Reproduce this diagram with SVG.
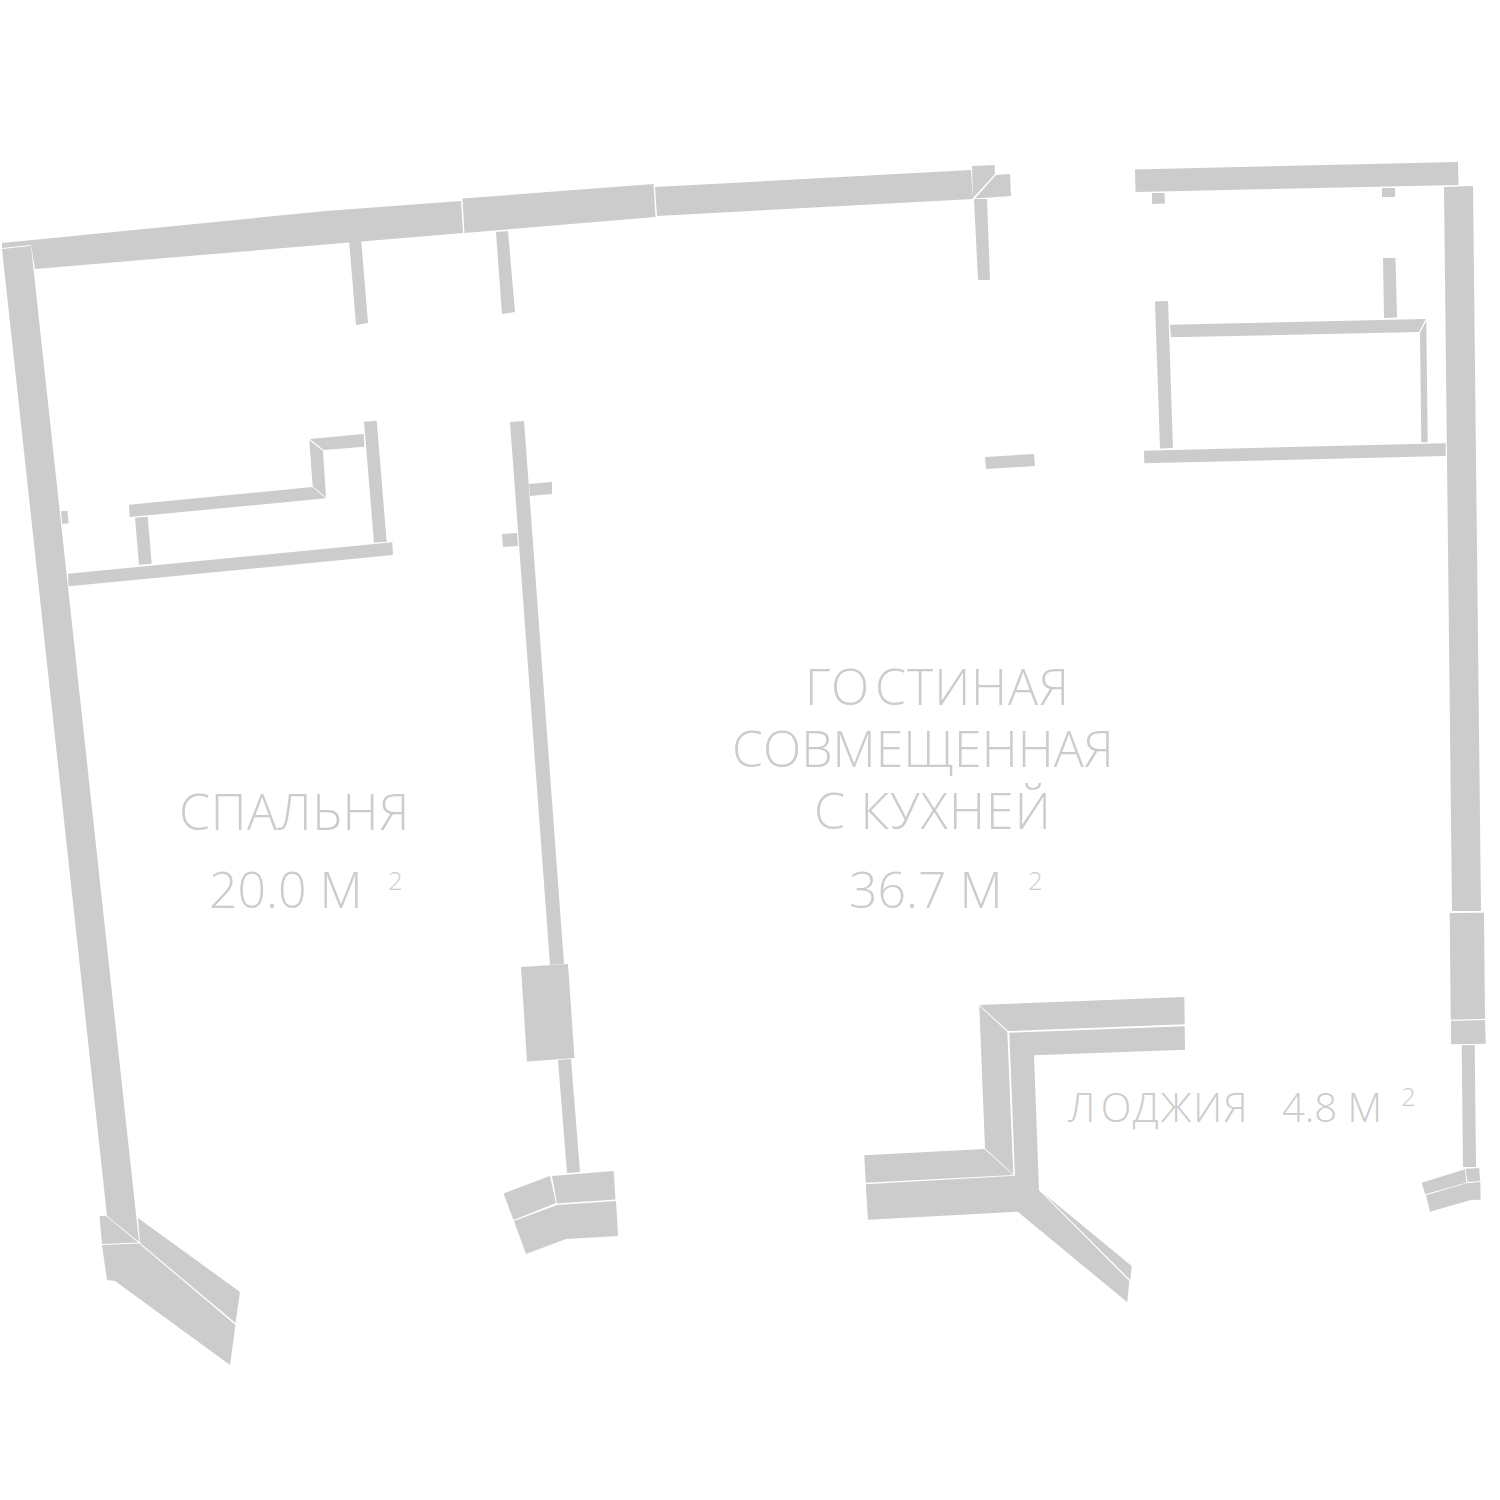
<svg xmlns="http://www.w3.org/2000/svg" width="1500" height="1500" viewBox="0 0 1500 1500">
<style>
polygon{fill:#ccc}
text{font-family:"Open Sans","Noto Sans","Liberation Sans",sans-serif;font-weight:300;fill:#ccc}
.big{font-size:50px}
.mid{font-size:40px}
.sup{font-size:26px}
</style>
<rect width="1500" height="1500" fill="#fff"/>
<g id="walls-left">
<polygon points="2,243 326,211 461,201 463,233 35,269 31,245 2,248"/>
<polygon points="2,249 31,246 139,1242 107,1216"/>
<polygon points="99.500,1216 106,1216 138,1242.500 102,1244"/>
<polygon points="102,1245 139,1243.500 235.500,1325 230,1365 115,1281 107,1280"/>
<polygon points="138,1218 240,1292 235.500,1323 140,1243"/>
<polygon points="349,239 361,238 368,323 356,325"/>
<polygon points="496,232 508,231 515,312 502,314"/>
<polygon points="364,421.700 376.700,420.700 386.700,541.700 374,542.700"/>
<polygon points="68,573.700 392.300,542.300 393,555 68.700,586.300"/>
<polygon points="135,517.700 147.700,516.700 151.700,563.700 139,564.700"/>
<polygon points="129,504.700 312.300,487 326,498.300 129.700,517"/>
<polygon points="309.300,440 323,451 326,497.300 312.700,486.300"/>
<polygon points="310,439 363.700,434 364.300,446.700 323.700,450"/>
<polygon points="61,511.300 67.300,510.700 68.700,523.300 62.300,524"/>
</g>
<g id="walls-middle">
<polygon points="510,422 524,421 564,964 550,965"/>
<polygon points="521,967 568,964 574.500,1058 527,1061.500"/>
<polygon points="558,1060 571,1059 580,1172 567,1173"/>
<polygon points="552,1176 613.700,1171 615.500,1199.500 557,1203.500"/>
<polygon points="503.500,1193.500 550,1176 556,1203 513.500,1220"/>
<polygon points="514,1221 557,1205 616,1201 618,1236 566,1239 526,1254"/>
<polygon points="529,484 552,482 552,494 530,496"/>
<polygon points="502,534 517,533 518,546 503,547"/>
<polygon points="462.500,198.500 653.500,184 655.500,217 464.500,233"/>
<polygon points="655,187 971,170 973,199 657,216"/>
<polygon points="972,166 994.500,165 995,174 973,198"/>
<polygon points="996,175 1010,174 1011,196 975,198.500"/>
<polygon points="974,199 987,199 990,280 978,280"/>
<polygon points="985,457 1034,454 1035,466 986,469"/>
</g>
<g id="walls-right">
<polygon points="1135,169.500 1458,162 1458.500,185 1135.500,192"/>
<polygon points="1152,193 1164.500,193 1165,203.500 1152,204"/>
<polygon points="1382,188 1395,188 1395,197 1382,197"/>
<polygon points="1444,187 1473,186 1481,911 1452,911"/>
<polygon points="1449.700,913 1484,912.700 1485,1018.700 1450.700,1019.700"/>
<polygon points="1451,1021 1485,1020 1485.700,1043.700 1451,1044.300"/>
<polygon points="1461.700,1045.300 1474.700,1045 1476,1167 1463,1167"/>
<polygon points="1465.700,1168.700 1479.300,1168 1480,1181 1467.300,1182"/>
<polygon points="1421.700,1182.700 1465,1169.300 1466.300,1182.700 1425.300,1194.300"/>
<polygon points="1426,1195.300 1466.700,1183.300 1480.300,1182 1480.700,1199.700 1470.700,1200 1430,1211.700"/>
<polygon points="1155,301.500 1168,301 1173,448 1160,448.500"/>
<polygon points="1383,258 1395.500,258 1397,317.500 1384,318"/>
<polygon points="1170,324.700 1425.700,319 1419,332 1171,337.300"/>
<polygon points="1420,332.700 1426.300,320.700 1427.700,442.300 1421.300,442.300"/>
<polygon points="1144,450.700 1445.700,443.300 1445.700,456 1144.300,463.300"/>
</g>
<g id="walls-loggia">
<polygon points="979.300,1005 1184.300,997 1184.700,1024.300 1008.300,1031"/>
<polygon points="979.300,1006 1007.300,1031.700 1013.300,1174.300 985,1148.300"/>
<polygon points="864.300,1155.300 984.300,1149 1013.300,1175 865.700,1182.700"/>
<polygon points="865.700,1184.300 1015,1175.700 1009.300,1032.700 1184.700,1026.300 1185,1049.700 1034,1055.300 1039,1190.300 1129.300,1281 1127.300,1302.300 1017.700,1211.700 868,1219.700"/>
<polygon points="1043.300,1193.300 1131.700,1266 1130.300,1280"/>
</g>
<g id="labels">
<text class="big" x="805" y="705" letter-spacing="0.9">ГО<tspan dx="5">СТИНАЯ</tspan></text>
<text class="big" x="732" y="767">СОВМЕЩЕННАЯ</text>
<text class="big" x="814" y="829" letter-spacing="1.2">С КУХНЕЙ</text>
<text class="big" x="849" y="908">36.7 М</text>
<text class="sup" x="1028" y="890">2</text>
<text class="big" x="179" y="830" letter-spacing="0.6">СПАЛЬНЯ</text>
<text class="big" x="209" y="908">20.0 М</text>
<text class="sup" x="388" y="890">2</text>
<text class="mid" x="1068" y="1122" letter-spacing="1.5">Л<tspan dx="4">ОДЖИЯ</tspan></text>
<text class="mid" x="1282" y="1122">4.8 М</text>
<text class="sup" x="1401" y="1106">2</text>
</g>
</svg>
